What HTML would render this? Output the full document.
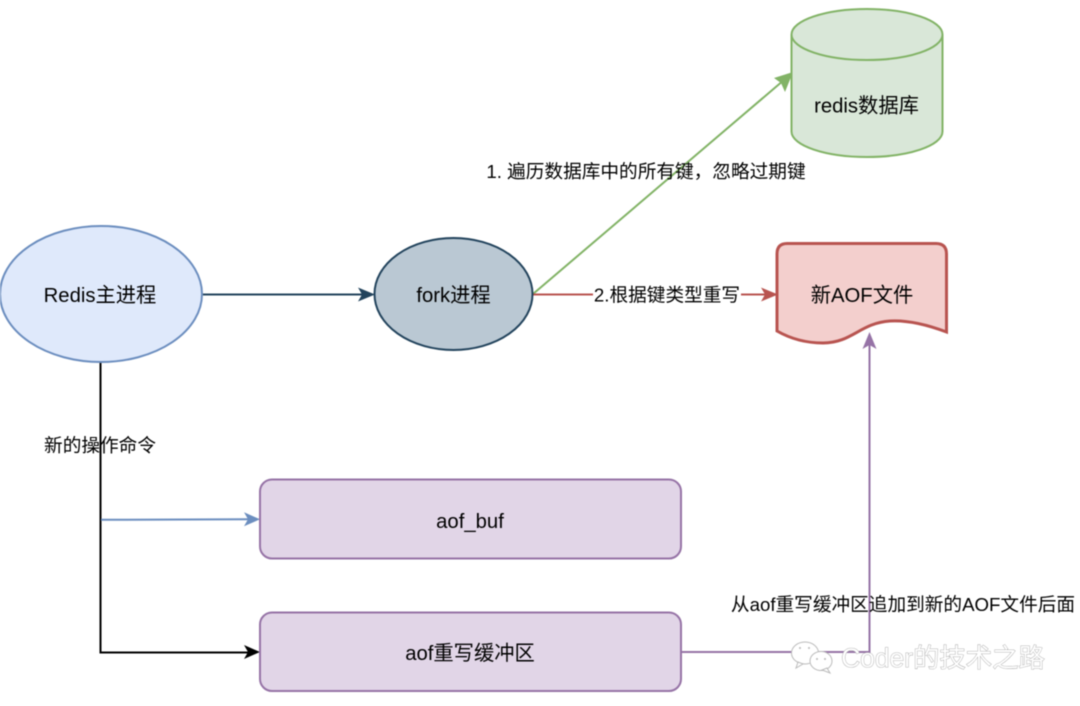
<!DOCTYPE html>
<html>
<head>
<meta charset="utf-8">
<style>
html,body{margin:0;padding:0;background:#fff;width:1080px;height:706px;overflow:hidden}
svg{display:block;filter:blur(0.45px)}
text{font-family:"Liberation Sans","Noto Sans CJK SC",sans-serif;font-size:18.67px;fill:#000;text-anchor:middle}
text.n{font-size:20.3px}
</style>
</head>
<body>
<svg width="1080" height="706" viewBox="0 0 1080 706" xmlns="http://www.w3.org/2000/svg">
<!-- connectors -->
<line x1="203" y1="294.500" x2="362" y2="294.500" stroke="#23445d" stroke-width="2"/>
<polygon points="375,294.500 358,287.500 362,294.500 358,301.500" fill="#23445d"/>

<line x1="533" y1="294" x2="784" y2="80" stroke="#82b366" stroke-width="2"/>
<polygon points="793,72 774,78 781,83 785,92" fill="#82b366"/>

<line x1="533" y1="294.500" x2="766" y2="294.500" stroke="#b85450" stroke-width="2"/>
<polygon points="778,294.500 761,287.500 765,294.500 761,301.500" fill="#b85450"/>

<polyline points="100.500,362 100.500,652.500 248,652.500" fill="none" stroke="#000" stroke-width="2"/>
<polygon points="260,652 244,645 248,652 244,659" fill="#000"/>

<line x1="101" y1="519.800" x2="248" y2="519.300" stroke="#6c8ebf" stroke-width="2"/>
<polygon points="260,519.300 244,512.300 248,519.300 244,526.300" fill="#6c8ebf"/>

<polyline points="681,652 869.500,652 869.500,345" fill="none" stroke="#9673a6" stroke-width="2"/>
<polygon points="869.500,332 862.500,349 869.500,345 876.500,349" fill="#9673a6"/>

<!-- nodes -->
<ellipse cx="101" cy="294" rx="101" ry="68" fill="#dfe9fb" stroke="#6c8ebf" stroke-width="2"/>
<ellipse cx="453.500" cy="294" rx="79" ry="56" fill="#bac8d3" stroke="#23445d" stroke-width="2"/>

<path d="M791.500,34.500 C791.500,20.400 825.500,9 867,9 C908.500,9 942.500,20.400 942.500,34.500 L942.500,131.500 C942.500,145.600 908.500,157 867,157 C825.500,157 791.500,145.600 791.500,131.500 Z" fill="#d9e7d8" stroke="#82b366" stroke-width="2"/>
<path d="M791.500,34.500 C791.500,48.600 825.500,60 867,60 C908.500,60 942.500,48.600 942.500,34.500" fill="none" stroke="#82b366" stroke-width="2"/>

<path d="M777,254 Q777,243.500 787,243.500 L936,243.500 Q946.500,243.500 946.500,254 L946.500,332 C928,325 908,320 890,321 C860,323 852,343 823,343 C806,343 791,339 777,331 Z" fill="#f3cfcd" stroke="#b85450" stroke-width="3"/>

<rect x="260" y="479.500" width="421" height="79" rx="12" ry="12" fill="#e1d5e7" stroke="#9673a6" stroke-width="2"/>
<rect x="260" y="612.500" width="421" height="78.500" rx="12" ry="12" fill="#e1d5e7" stroke="#9673a6" stroke-width="2"/>

<!-- labels -->
<text class="n" x="100" y="302">Redis主进程</text>
<text class="n" x="453.500" y="302">fork进程</text>
<text class="n" x="866.500" y="112.500">redis数据库</text>
<text class="n" x="862" y="302">新AOF文件</text>
<text class="n" x="470" y="528">aof_buf</text>
<text class="n" x="470" y="660">aof重写缓冲区</text>

<text x="646" y="178">1. 遍历数据库中的所有键，忽略过期键</text>
<rect x="593" y="284" width="148" height="22" fill="#fff"/>
<text x="667" y="301.500">2.根据键类型重写</text>
<text x="100" y="452">新的操作命令</text>
<text x="903" y="611">从aof重写缓冲区追加到新的AOF文件后面</text>

<!-- watermark -->
<g fill="#fff" stroke="#bbb" stroke-width="1">
<ellipse cx="805" cy="653" rx="13.500" ry="11"/>
<path d="M798,662 L796,668 L803,664 Z"/>
<ellipse cx="821" cy="661" rx="11" ry="9.500"/>
<path d="M827,668 L830,673 L822,670 Z"/>
</g>
<g fill="#bbb">
<circle cx="800" cy="648" r="1"/><circle cx="809" cy="648" r="1"/>
<circle cx="817" cy="659" r="1"/><circle cx="825" cy="659" r="1"/>
</g>
<text x="943" y="667" style="font-size:26.400px;fill:#fff;stroke:#a0a0a0;stroke-width:0.800px;paint-order:stroke">Coder的技术之路</text>
</svg>
</body>
</html>
